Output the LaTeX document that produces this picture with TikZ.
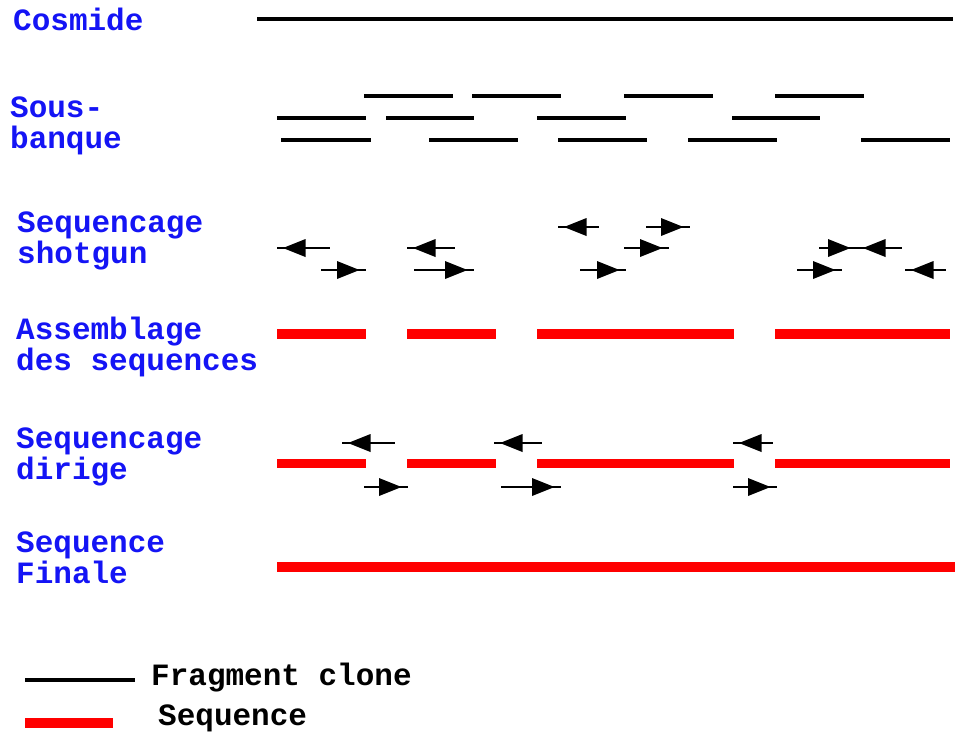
\documentclass[tikz,border=0pt]{standalone}
\usepackage{fontspec}
\newfontfamily\lblfont{Liberation Mono}
\definecolor{lblblue}{RGB}{20,20,245}
\definecolor{seqred}{RGB}{255,0,0}
\tikzset{
  lbl/.style={anchor=base west, inner sep=0pt, align=left, text=lblblue,
    font=\lblfont\bfseries\fontsize{31}{30.5}\selectfont},
  leg/.style={lbl, text=black},
  frag/.style={line width=4pt, black},
  seqbar/.style={line width=10pt, seqred},
  arrline/.style={line width=2.2pt, black},
  headfill/.style={fill=black},
}
\newcommand{\shR}[3]{%
  \draw[arrline] (#1,#3) -- (#2,#3);
  \fill[headfill] (#2-6.5,#3) -- (#2-29,#3-9) -- (#2-29,#3+9) -- cycle;}
\newcommand{\shL}[3]{%
  \draw[arrline] (#1,#3) -- (#2,#3);
  \fill[headfill] (#1+6,#3) -- (#1+28.5,#3-9) -- (#1+28.5,#3+9) -- cycle;}
\begin{document}
\begin{tikzpicture}[x=1pt,y=-1pt]
\useasboundingbox (0,0) rectangle (959,734);
\fill[white] (0,0) rectangle (959,734);

% labels (anchor at the baseline of the last line)
\node[lbl] (cosmide) at (13,30) {Cosmide};
\node[lbl] (sous) at (10,148) {Sous-\\banque};
\node[lbl] (shotgun) at (17,263) {Sequencage\\shotgun};
\node[lbl] (assemb) at (16,370) {Assemblage\\des sequences};
\node[lbl] (dirige) at (16,479) {Sequencage\\dirige};
\node[lbl] (finale) at (16,583) {Sequence\\Finale};

% cosmide
\draw[frag, line width=4.5pt] (257,19) -- (953,19);

% sous-banque
\foreach \a/\b in {364/453, 472/561, 624/713, 775/864}
  \draw[frag] (\a,96) -- (\b,96);
\foreach \a/\b in {277/366, 386/474, 537/626, 732/820}
  \draw[frag] (\a,118) -- (\b,118);
\foreach \a/\b in {281/371, 429/518, 558/647, 688/777, 861/950}
  \draw[frag] (\a,140) -- (\b,140);

% sequencage shotgun
\shL{558}{599}{227}
\shR{646}{690}{227}
\shL{277}{330}{248}
\shL{407}{455}{248}
\shR{624}{669}{248}
\shR{819}{857}{248}
\shL{857}{902}{248}
\shR{321}{366}{270}
\shR{414}{474}{270}
\shR{580}{626}{270}
\shR{797}{842}{270}
\shL{905}{946}{270}

% assemblage
\foreach \a/\b in {277/366, 407/496, 537/734, 775/950}
  \draw[seqbar] (\a,334) -- (\b,334);

% sequencage dirige
\foreach \a/\b in {277/366, 407/496, 537/734, 775/950}
  \draw[seqbar, line width=9.5pt] (\a,463.5) -- (\b,463.5);
\shL{342}{395}{443}
\shL{494}{542}{443}
\shL{733}{773}{443}
\shR{364}{408}{487}
\shR{501}{561}{487}
\shR{733}{777}{487}

% sequence finale
\draw[seqbar] (277,567) -- (955,567);

% legend
\draw[frag, line width=3.5pt] (25,680) -- (135,680);
\node[leg] (legfrag) at (151,685) {Fragment clone};
\draw[seqbar] (25,723) -- (113,723);
\node[leg] (legseq) at (158,725) {Sequence};
\end{tikzpicture}
\end{document}
